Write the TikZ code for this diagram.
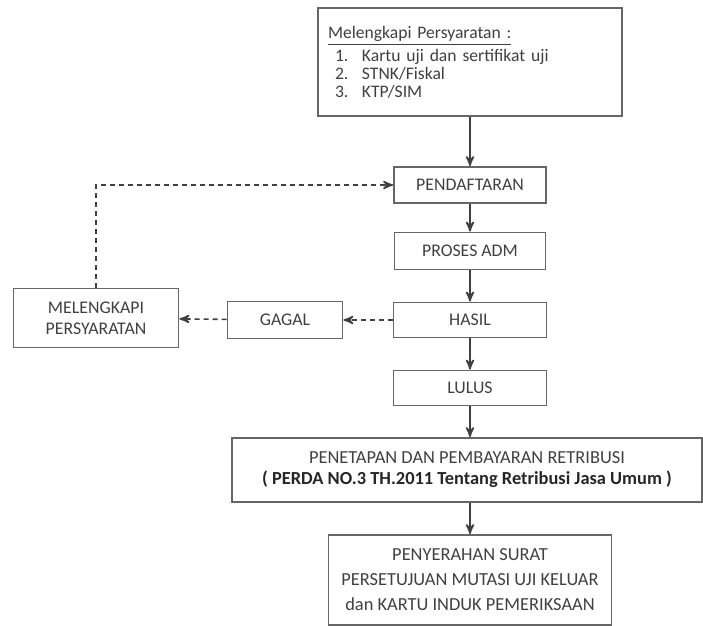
\documentclass[tikz,border=0pt]{standalone}
\usepackage{fontspec}
\setmainfont{Carlito}
\usepackage{tikz}
\usetikzlibrary{arrows,positioning}

\begin{document}
\begin{tikzpicture}[x=0.5pt,y=-0.5pt,->,>=stealth',line width=0.8pt,draw=black!75]
\tikzset{every node/.style={font=\fontsize{8.9}{10.5}\selectfont,text=black!75}}
\tikzset{kotak/.style 2 args={draw=black!60,line width=0.9pt,inner sep=0pt,align=center,minimum width=#1,minimum height=#2}}
\tikzset{putus/.style={dash pattern=on 2.5pt off 2pt}}
\useasboundingbox (0,0) rectangle (703,626);

\node[kotak={152pt}{54pt},align=left,text width=142pt,font=\fontsize{8.8}{9}\selectfont] (syarat) at (470,62)
  {\underline{Melengkapi Persyaratan :}\\[1pt]
   \hspace*{3.5pt}\makebox[13.5pt][l]{1.}Kartu uji dan sertifikat uji\\
   \hspace*{3.5pt}\makebox[13.5pt][l]{2.}STNK/Fiskal\\
   \hspace*{3.5pt}\makebox[13.5pt][l]{3.}KTP/SIM};
\node[kotak={76pt}{18pt}] (daftar) at (470,185) {PENDAFTARAN};
\node[kotak={75.5pt}{18.5pt}] (proses) at (470,251) {PROSES ADM};
\node[kotak={76.5pt}{17.5pt}] (hasil) at (470,320) {HASIL};
\node[kotak={76.5pt}{17.5pt}] (lulus) at (470,388) {LULUS};
\node[kotak={57.5pt}{18.5pt}] (gagal) at (285,320) {GAGAL};
\node[kotak={82.5pt}{29.5pt}] (lengkap) at (96,318) {MELENGKAPI\\ PERSYARATAN};
\node[kotak={235pt}{32pt},font=\fontsize{9.2}{10.5}\selectfont] (retribusi) at (467,470)
  {PENETAPAN DAN PEMBAYARAN RETRIBUSI\\ \textbf{\color{black!85}( PERDA NO.3 TH.2011 Tentang Retribusi Jasa Umum )}};
\node[kotak={141.5pt}{45pt},font=\fontsize{9.2}{12.5}\selectfont] (serah) at (470,580)
  {PENYERAHAN SURAT\\ PERSETUJUAN MUTASI UJI KELUAR\\ dan KARTU INDUK PEMERIKSAAN};

\draw (syarat) -- (daftar);
\draw (daftar) -- (proses);
\draw (proses) -- (hasil);
\draw (hasil) -- (lulus);
\draw (lulus.south) -- (lulus.south |- retribusi.north);
\draw (retribusi.south -| serah.north) -- (serah.north);

\draw[putus] (hasil) -- (gagal);
\draw[putus] (gagal) -- (lengkap);
\draw[putus] (lengkap.north) |- (daftar.west);
\end{tikzpicture}
\end{document}
